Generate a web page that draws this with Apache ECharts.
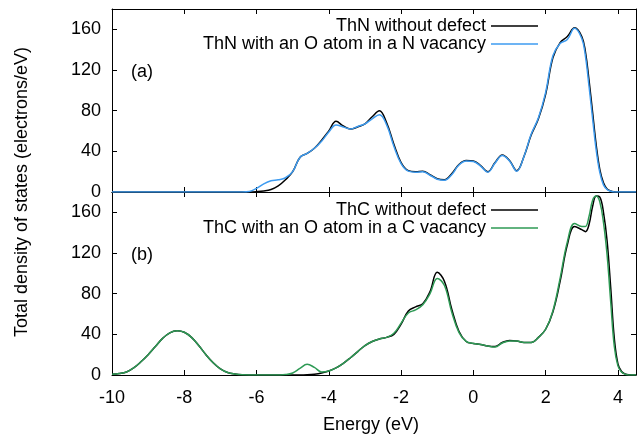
<!DOCTYPE html>
<html>
<head>
<meta charset="utf-8">
<script src="https://cdn.jsdelivr.net/npm/echarts@6/dist/echarts.min.js"></script>
<style>
  html, body { margin: 0; padding: 0; background: #fff; }
  #chart { width: 637px; height: 438px; }
</style>
</head>
<body>
<div id="chart"></div>
<script>
// energy grid (eV) for panel (a), ThN
var energyA = [-10, -6.4, -6.2, -6.0, -5.8, -5.6, -5.4, -5.2, -5.0, -4.8, -4.6, -4.4, -4.2, -4.0, -3.8, -3.6, -3.4, -3.2, -3.0, -2.8, -2.6, -2.4, -2.2, -2.0, -1.8, -1.6, -1.4, -1.2, -1.0, -0.8, -0.6, -0.4, -0.2, 0, 0.2, 0.4, 0.6, 0.8, 1.0, 1.2, 1.4, 1.6, 1.8, 2.0, 2.2, 2.4, 2.6, 2.8, 3.0, 3.1, 3.2, 3.3, 3.4, 3.5, 3.6, 3.7, 3.8, 3.9, 4.0, 4.5];
var thnPure = [0, 0, 0, 0.3, 1, 2.5, 6, 12, 20, 34, 38, 43, 51, 60, 69.5, 65, 62, 64, 67, 74, 80, 68, 47, 29, 21, 20, 20.5, 17, 13, 12, 18, 27, 31, 30.5, 26, 20, 29, 36.5, 31, 21, 35, 56, 72, 96, 132, 147, 153, 161.5, 153, 138, 110, 78, 46, 22, 9, 3, 1, 0.2, 0, 0];
var thnOxy = [0, 0, 0.5, 3.5, 8, 11, 12, 14, 20, 34, 38, 43, 50, 59, 66, 64, 62, 64.5, 67, 72, 76, 66, 45, 28, 20.5, 19.5, 20, 16.5, 12.5, 11.5, 17, 26.5, 30.5, 30, 25.5, 19.5, 28.5, 36, 30.5, 20.5, 35, 57, 73, 98, 134, 146, 150, 161, 151, 134, 104, 72, 41, 19, 7, 2.5, 0.8, 0.1, 0, 0];

// energy grid (eV) for panel (b), ThC
var energyB = [-10, -9.8, -9.6, -9.4, -9.2, -9.0, -8.8, -8.6, -8.4, -8.2, -8.0, -7.8, -7.6, -7.4, -7.2, -7.0, -6.8, -6.6, -6.4, -6.0, -5.5, -5.2, -5.0, -4.8, -4.6, -4.4, -4.2, -4.0, -3.8, -3.6, -3.4, -3.2, -3.0, -2.8, -2.6, -2.4, -2.2, -2.0, -1.8, -1.6, -1.4, -1.2, -1.0, -0.8, -0.6, -0.4, -0.2, 0, 0.2, 0.4, 0.6, 0.8, 1.0, 1.2, 1.4, 1.6, 1.8, 2.0, 2.2, 2.4, 2.6, 2.8, 3.0, 3.1, 3.2, 3.3, 3.4, 3.5, 3.6, 3.7, 3.8, 3.9, 4.0, 4.1, 4.2, 4.3, 4.5];
var thcPure = [0.8, 1.5, 3, 7, 13, 20, 28, 36, 41.5, 43.5, 42, 37, 29, 20, 12, 6, 2.5, 1, 0.3, 0, 0, 0, 0, 0, 0.2, 0.8, 2, 4, 7, 11.5, 17, 23, 29, 33, 35.5, 37, 40, 50, 63, 67, 70, 82, 101, 92, 65, 43, 33, 31, 30, 28.5, 28, 32, 34, 33.5, 32, 32, 37, 45, 62, 92, 128, 146, 143, 141, 148, 166, 176, 175, 160, 132, 86, 36, 11, 3.5, 1, 0.2, 0];
var thcOxy = [0.8, 1.5, 3, 7, 13, 20, 28, 36, 41.5, 43.5, 42, 37, 29, 20, 12, 6, 2.5, 1, 0.3, 0, 0, 0.5, 2, 6.5, 10.5, 7.5, 3, 4, 7, 11.5, 17, 23, 29, 33, 35.5, 37, 41, 51, 61, 64, 69, 80, 95, 88, 62, 42, 33, 31, 30, 28.5, 27.5, 31.5, 33.5, 33.5, 32, 32, 37, 45, 63, 95, 131, 149, 146, 146, 156, 172, 176, 170, 150, 118, 72, 28, 9, 3, 0.8, 0.1, 0];

var names = ['ThN without defect', 'ThN with an O atom in a N vacancy', 'ThC without defect', 'ThC with an O atom in a C vacancy'];
var colors = ['#000000', '#3d9bf0', '#000000', '#2e9a55'];
var xTicks = [-10, -8, -6, -4, -2, 0, 2, 4];
var yTicks = [0, 40, 80, 120, 160];

var font = 'Liberation Sans';
var chart = echarts.init(document.getElementById('chart'), null, { renderer: 'canvas' });

function pairs(xs, ys) {
  return xs.map(function (x, i) { return [x, ys[i]]; });
}

function xAx(grid, pos, labels) {
  return {
    type: 'value', gridIndex: grid, position: pos,
    min: -10, max: 4.5, interval: 2,
    axisLine: { show: true, onZero: false, lineStyle: { color: '#000', width: 1 } },
    axisTick: { show: true, inside: true, length: 5, lineStyle: { color: '#000' } },
    splitLine: { show: false },
    axisLabel: {
      show: labels, margin: 14, showMaxLabel: false,
      color: '#000', fontSize: 18, fontFamily: font,
      formatter: function (v) { return xTicks.indexOf(v) >= 0 ? String(v) : ''; }
    }
  };
}

function yAx(grid, pos, labels) {
  return {
    type: 'value', gridIndex: grid, position: pos,
    min: 0, max: 180, interval: 40,
    axisLine: { show: true, onZero: false, lineStyle: { color: '#000', width: 1 } },
    axisTick: { show: true, inside: true, length: 5, lineStyle: { color: '#000' } },
    splitLine: { show: false },
    axisLabel: {
      show: labels, margin: 11, showMaxLabel: false,
      color: '#000', fontSize: 18, fontFamily: font,
      formatter: function (v) { return yTicks.indexOf(v) >= 0 ? String(v) : ''; }
    }
  };
}

function line(i, xi, yi, xs, ys) {
  return {
    name: names[i], type: 'line', xAxisIndex: xi, yAxisIndex: yi,
    data: pairs(xs, ys), smooth: 0.4, symbol: 'none',
    lineStyle: { color: colors[i], width: 1.5 },
    itemStyle: { color: colors[i] },
    animation: false
  };
}

function legendItem(i, top) {
  return {
    data: [names[i]], right: 99, top: top, orient: 'horizontal', align: 'right',
    icon: 'rect',
    itemWidth: 47, itemHeight: 1.5, padding: 0, selectedMode: false,
    textStyle: { color: '#000', fontSize: 18, fontFamily: font }
  };
}

var option = {
  backgroundColor: '#fff',
  animation: false,
  grid: [
    { left: 112, top: 9, right: 1, height: 183 },
    { left: 112, top: 192, right: 1, height: 183 }
  ],
  xAxis: [
    xAx(0, 'bottom', false), xAx(0, 'top', false),
    xAx(1, 'bottom', true), xAx(1, 'top', false)
  ],
  yAxis: [
    yAx(0, 'left', true), yAx(0, 'right', false),
    yAx(1, 'left', true), yAx(1, 'right', false)
  ],
  legend: [legendItem(0, 17), legendItem(1, 35), legendItem(2, 201), legendItem(3, 219)],
  series: [
    line(0, 0, 0, energyA, thnPure),
    line(1, 0, 0, energyA, thnOxy),
    line(2, 2, 2, energyB, thcPure),
    line(3, 2, 2, energyB, thcOxy)
  ],
  graphic: [
    { type: 'text', left: 131, top: 63, style: { text: '(a)', fontSize: 18, fontFamily: font, fill: '#000' } },
    { type: 'text', left: 131, top: 246, style: { text: '(b)', fontSize: 18, fontFamily: font, fill: '#000' } },
    { type: 'text', x: 371, y: 425, style: { text: 'Energy (eV)', fontSize: 18, fontFamily: font, fill: '#000', align: 'center', verticalAlign: 'middle' } },
    { type: 'text', x: 22, y: 192, rotation: Math.PI / 2, style: { text: 'Total density of states (electrons/eV)', fontSize: 18, fontFamily: font, fill: '#000', align: 'center', verticalAlign: 'middle' } }
  ]
};

chart.setOption(option);
</script>
</body>
</html>
